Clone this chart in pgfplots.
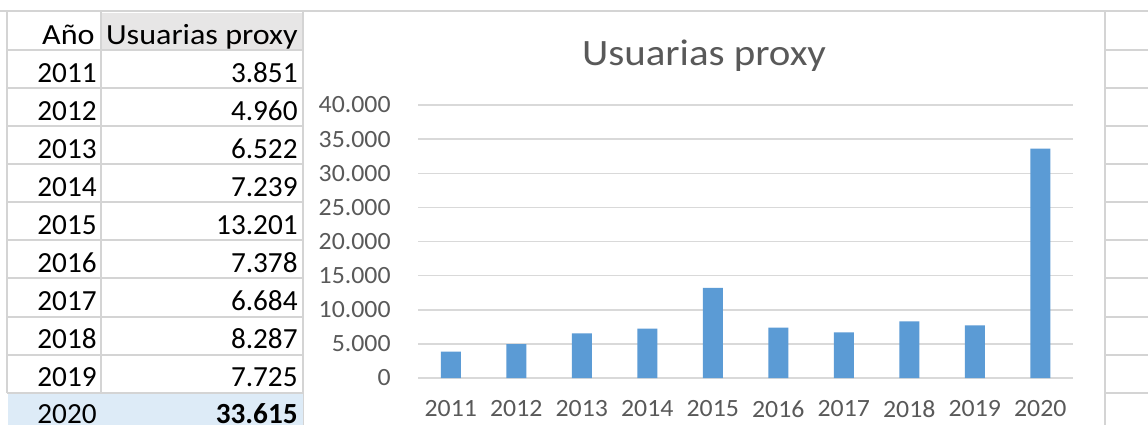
\documentclass[border=0pt]{standalone}
\usepackage{pgfplots}
\pgfplotsset{compat=1.18}
\usepackage{pgfplotstable}
\usepackage{fontspec}
\setmainfont{Carlito}
\newfontfamily\widefont[FakeStretch=1.10]{Carlito}
\newfontfamily\tickfont[FakeStretch=1.04]{Carlito}
\definecolor{sgrid}{HTML}{D4D4D4}
\definecolor{cgrid}{HTML}{D9D9D9}
\definecolor{barc}{HTML}{5B9BD5}
\definecolor{txt}{HTML}{595959}
\definecolor{hdr}{HTML}{E7E6E6}
\definecolor{sel}{HTML}{DDEBF7}

\pgfplotstableread{
x year val
0 2011 3851
1 2012 4960
2 2013 6522
3 2014 7239
4 2015 13201
5 2016 7378
6 2017 6684
7 2018 8287
8 2019 7725
9 2020 33615
}\data

\begin{document}
\begin{tikzpicture}
\path[use as bounding box] (0,0) rectangle (574pt,-212.5pt);
\begin{scope}[x=0.5pt,y=-0.5pt]
\fill[white] (0,0) rectangle (1148,425);
% header fill
\fill[hdr] (102,13) rectangle (303,49);
% table grid
\foreach \yy in {50,88,126,164,202,240,278,317,355,393}
  \draw[sgrid, line width=1pt] (7,\yy) -- (303,\yy);
\draw[sgrid, line width=1pt] (0,11) -- (1148,11);
\draw[sgrid, line width=1pt] (7,11) -- (7,393);
\draw[sgrid, line width=1pt] (101,11) -- (101,393);
\draw[sgrid, line width=1pt] (303,11) -- (303,425);
\fill[sel] (8,394) rectangle (303,425);
% right-side sheet grid
\foreach \yy in {50,88,126,164,202,240,278,317,355,393}
  \draw[sgrid, line width=1pt] (1105,\yy) -- (1148,\yy);
\draw[sgrid, line width=1pt] (1105,11) -- (1105,425);
% table text
\begin{scope}[every node/.style={inner sep=0pt, font=\fontsize{14.6}{17}\selectfont}]
\node[anchor=base east, font=\widefont\fontsize{14.6}{17}\selectfont] at (95,44) {Año};
\node[anchor=base east, font=\widefont\fontsize{14.6}{17}\selectfont] at (298,44) {Usuarias proxy};
\node[anchor=base east] at (97,82) {2011};   \node[anchor=base east] at (298,82) {3.851};
\node[anchor=base east] at (97,120) {2012};  \node[anchor=base east] at (298,120) {4.960};
\node[anchor=base east] at (97,158) {2013};  \node[anchor=base east] at (298,158) {6.522};
\node[anchor=base east] at (97,196) {2014};  \node[anchor=base east] at (298,196) {7.239};
\node[anchor=base east] at (97,234) {2015};  \node[anchor=base east] at (298,234) {13.201};
\node[anchor=base east] at (97,272) {2016};  \node[anchor=base east] at (298,272) {7.378};
\node[anchor=base east] at (97,310) {2017};  \node[anchor=base east] at (298,310) {6.684};
\node[anchor=base east] at (97,348) {2018};  \node[anchor=base east] at (298,348) {8.287};
\node[anchor=base east] at (97,386) {2019};  \node[anchor=base east] at (298,386) {7.725};
\node[anchor=base east] at (97,423) {2020};  \node[anchor=base east] at (298,423) {\bfseries 33.615};
\end{scope}
% chart title
\node[anchor=base, inner sep=0pt, text=txt, font=\widefont\fontsize{18.6}{22}\selectfont] at (704,65) {Usuarias proxy};
\end{scope}

\begin{axis}[
  at={(209pt,-189pt)}, anchor=south west,
  scale only axis, width=327.5pt, height=136.5pt,
  xmin=-0.5, xmax=9.5, ymin=0, ymax=40000,
  ytick={0,5000,10000,15000,20000,25000,30000,35000,40000},
  xtick=data, xticklabels from table={\data}{year},
  ymajorgrids, grid style={cgrid, line width=0.75pt},
  axis line style={draw=none},
  major tick length=0pt,
  scaled y ticks=false,
  /pgf/number format/assume math mode=true,
  yticklabel style={/pgf/number format/fixed, /pgf/number format/1000 sep={.},
    anchor=east, inner sep=0pt, xshift=-13.5pt, text=txt, font=\tickfont\fontsize{12.4}{14}\selectfont},
  xticklabel style={anchor=north, inner sep=0pt, yshift=-11pt, text=txt, font=\tickfont\fontsize{12.4}{14}\selectfont},
]
\addplot[ybar, bar width=10pt, fill=barc, draw=none] table[x=x, y=val] {\data};
\end{axis}
\end{tikzpicture}
\end{document}
